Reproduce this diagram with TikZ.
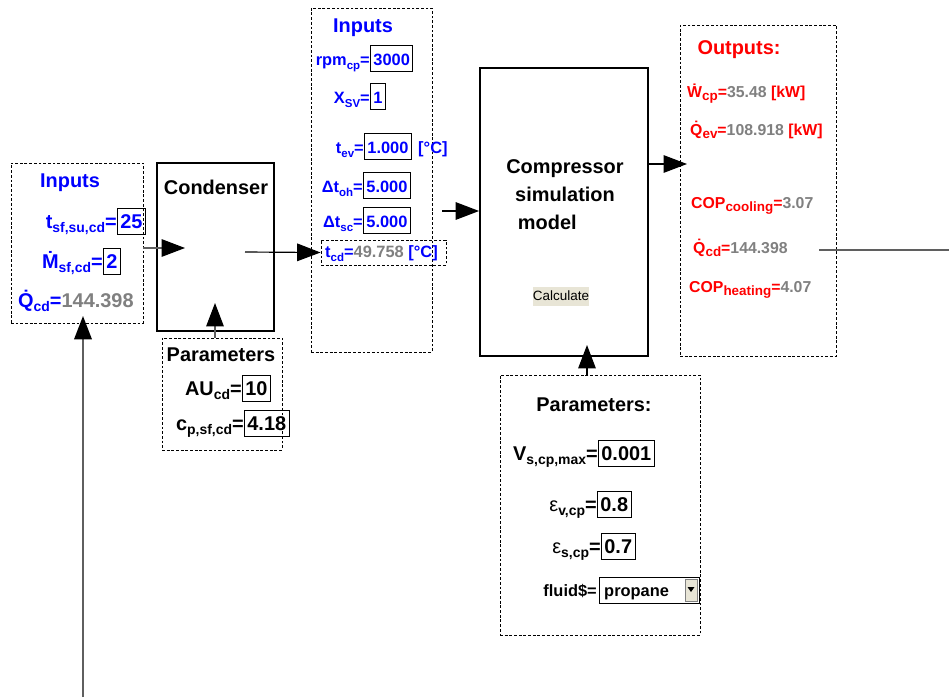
\documentclass[tikz,border=0pt]{standalone}
\usepackage{fontspec}
\setmainfont{Liberation Sans}
\usetikzlibrary{arrows.meta, fit}

\definecolor{azul}{RGB}{0,0,255}
\definecolor{vermelho}{RGB}{255,0,0}
\definecolor{cinza}{RGB}{128,128,128}
\definecolor{traco}{RGB}{95,95,95}
\definecolor{botaofundo}{RGB}{232,229,214}

% subscritos e tamanhos de letra
\newcommand\lo[2][0.7]{\raisebox{-0.25em}{\scalebox{#1}{#2}}}
\newcommand\fgrande{\fontsize{17}{24}\selectfont\bfseries}
\newcommand\fmedio{\fontsize{14}{17}\selectfont\bfseries}
\newcommand\fpeq{\fontsize{13.5}{16}\selectfont\bfseries}

\begin{document}
\begin{tikzpicture}[
    x=0.03cm, y=-0.03cm,
    >={Triangle[length=20pt, width=15pt, color=black]},
    bloco/.style={draw, line width=1.6pt, inner sep=0pt},
    painel/.style={draw, line width=0.7pt, dash pattern=on 2.4pt off 1.6pt, inner sep=0pt},
    titulo/.style={font=\fgrande, inner sep=0pt},
    rotulo/.style={anchor=base east, inner sep=0pt},
    linha/.style={anchor=base west, inner sep=0pt},
    valor/.style={draw, line width=0.8pt, anchor=base west, inner xsep=2.5pt,
                  inner ysep=2.5pt, text height=14pt, text depth=3pt},
    botao/.style={fill=botaofundo, font=\fontsize{11.5}{13}\selectfont,
                  minimum width=1.68cm, minimum height=0.57cm, inner sep=0pt},
    fluxo/.style={->, line width=1pt, draw=traco}
  ]
    \useasboundingbox (0,0) rectangle (949,697);

    % Entradas do condensador
    \node[painel, fit={(11,163) (143,323)}] (entCd) {};
    \begin{scope}[every node/.append style={font=\fgrande, text=azul}]
      \node[titulo] (titEntCd) at (70,183) {Inputs};
      \node[rotulo] (lbTsf) at (117,228) {t\lo{sf,su,cd}=};
      \node[valor]  (vTsf)  at (117,228) {25};
      \node[rotulo] (lbMsf) at (103,268) {\.{M}\lo{sf,cd}=};
      \node[valor]  (vMsf)  at (103,268) {2};
      \node[linha]  (lbQcd) at (18,307)  {\.{Q}\lo{cd}=\textcolor{cinza}{144.398}};
    \end{scope}

    % Condensador e seus parâmetros
    \node[bloco, fit={(157,163) (274,331)}] (cond) {};
    \node[titulo] (titCond) at (216,187) {Condenser};
    \node[painel, fit={(162,338) (282,450)}] (parCd) {};
    \begin{scope}[every node/.append style={font=\fgrande}]
      \node[titulo] (titParCd) at (221,355) {Parameters};
      \node[rotulo] (lbAU) at (242,395) {AU\lo{cd}=};
      \node[valor]  (vAU)  at (242,395) {10};
      \node[rotulo] (lbCp) at (244,430) {c\lo{p,sf,cd}=};
      \node[valor]  (vCp)  at (244,430) {4.18};
    \end{scope}

    % Entradas do compressor
    \node[painel, fit={(311,8) (432,352)}] (entCp) {};
    \begin{scope}[every node/.append style={font=\fmedio, text=azul}]
      \node[titulo] (titEntCp) at (363,28) {Inputs};
      \node[rotulo] (lbRpm) at (370,65)  {rpm\lo{cp}=};
      \node[valor]  (vRpm)  at (370,65)  {3000};
      \node[rotulo] (lbXsv) at (370,103) {X\lo{SV}=};
      \node[valor]  (vXsv)  at (370,103) {1};
      \node[rotulo] (lbTev) at (364,153) {t\lo{ev}=};
      \node[valor]  (vTev)  at (364,153) {1.000};
      \node[linha]  (unTev) at (418,153) {[°C]};
      \node[rotulo] (lbDoh) at (363,192) {Δt\lo{oh}=};
      \node[valor]  (vDoh)  at (363,192) {5.000};
      \node[rotulo] (lbDsc) at (363,227) {Δt\lo{sc}=};
      \node[valor]  (vDsc)  at (363,227) {5.000};
      \node[linha]  (lbTcd) at (325,257) {t\lo{cd}=\textcolor{cinza}{49.758} [°C]};
    \end{scope}
    \node[painel, fit={(321,240) (446,265)}] (tcd) {};

    % Modelo do compressor
    \node[bloco, fit={(480,68) (648,356)}] (comp) {};
    \node[titulo, align=center] (titComp) at (565,195)
          {Compressor\\simulation\\model\phantom{mm}};
    \node[botao] (calc) at (561,296) {Calculate};

    % Saídas
    \node[painel, fit={(680,25) (836,356)}] (saida) {};
    \begin{scope}[every node/.append style={font=\fpeq, text=vermelho}]
      \node[titulo] (titSaida) at (739,50) {Outputs:};
      \node[linha] (oWcp)  at (687,97)  {\.{W}\lo[0.85]{cp}=\textcolor{cinza}{35.48} [kW]};
      \node[linha] (oQev)  at (690,135) {\.{Q}\lo[0.85]{ev}=\textcolor{cinza}{108.918} [kW]};
      \node[linha] (oCopC) at (691,208) {COP\lo[0.85]{cooling}=\textcolor{cinza}{3.07}};
      \node[linha] (oQcd)  at (693,253) {\.{Q}\lo[0.85]{cd}=\textcolor{cinza}{144.398}};
      \node[linha] (oCopH) at (689,292) {COP\lo[0.85]{heating}=\textcolor{cinza}{4.07}};
    \end{scope}

    % Parâmetros do compressor
    \node[painel, fit={(500,375) (700,635)}] (parCp) {};
    \begin{scope}[every node/.append style={font=\fgrande}]
      \node[titulo] (titParCp) at (594,405) {Parameters:};
      \node[rotulo] (lbVs) at (598,460) {V\lo{s,cp,max}=};
      \node[valor]  (vVs)  at (598,460) {0.001};
      \node[rotulo] (lbEv) at (597,511) {{\mdseries ε}\lo{v,cp}=};
      \node[valor]  (vEv)  at (597,511) {0.8};
      \node[rotulo] (lbEs) at (601,553) {{\mdseries ε}\lo{s,cp}=};
      \node[valor]  (vEs)  at (601,553) {0.7};
      \node[rotulo, font=\fmedio] (lbFl) at (597,596) {fluid\$=};
    \end{scope}
    \node[draw, line width=0.6pt, inner sep=0pt, fit={(599,577) (699,603)}] (fluido) {};
    \node[linha, font=\fmedio] (vFl) at (604,596) {propane};
    \node[draw=gray, fill=botaofundo, inner sep=0pt, fit={(685,579) (697,601)}] (btFl) {};
    \fill (687.5,587) -- (694.5,587) -- (691,592) -- cycle;

    % Ligações entre blocos
    \coordinate (pCd1) at (185,248);
    \draw[fluxo] (entCd.east |- pCd1) -- (pCd1);
    \coordinate (pCd2) at (245,252);
    \draw[fluxo, draw=black] (pCd2) -- (tcd.west);
    \coordinate (pCd3) at (215,303);
    \draw[fluxo] (parCd.north -| pCd3) -- (pCd3);
    \coordinate (pCp1) at (442,211);
    \draw[fluxo, draw=black] (pCp1) -- (comp.west |- pCp1);
    \coordinate (pCp2) at (687,164);
    \draw[fluxo, draw=black] (comp.east |- pCp2) -- (pCp2);
    \coordinate (pCp3) at (587,345);
    \draw[fluxo, draw=black] (parCp.north -| pCp3) -- (pCp3);

    % Calor do condensador de volta às entradas
    \coordinate (pQa) at (819,250);
    \coordinate (pQb) at (949,250);
    \draw[line width=1pt, traco] (pQa) -- (pQb);
    \coordinate (pQc) at (83,697);
    \coordinate (pQd) at (83,316);
    \draw[fluxo, line width=1.6pt] (pQc) -- (pQd);
\end{tikzpicture}
\end{document}
